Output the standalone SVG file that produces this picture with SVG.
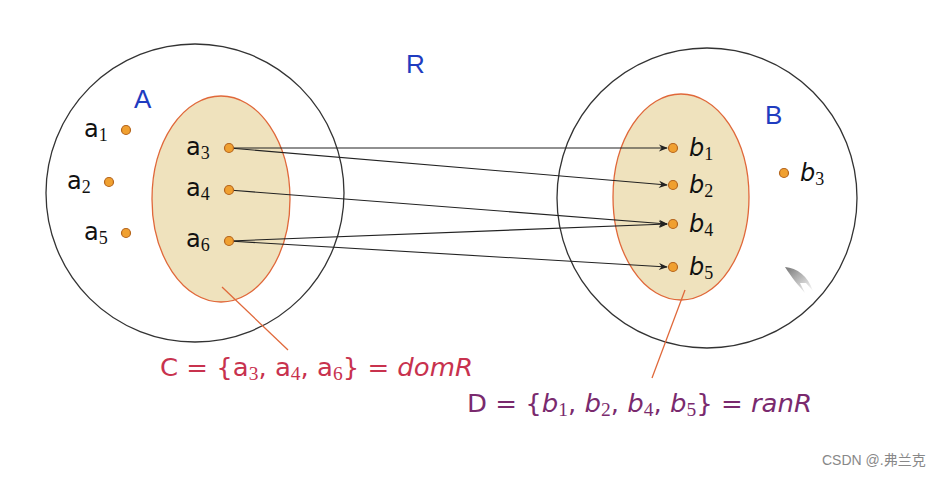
<svg xmlns="http://www.w3.org/2000/svg" width="951" height="477" viewBox="0 0 951 477">
<defs>
<marker id="arr" viewBox="0 0 10 10" refX="9" refY="5" markerWidth="10" markerHeight="9" orient="auto" markerUnits="userSpaceOnUse">
<path d="M0,1 L10,5 L0,9 L3,5 Z" fill="#222"/>
</marker>
<linearGradient id="cur" x1="0" y1="0" x2="1" y2="1">
<stop offset="0" stop-color="#555"/>
<stop offset="1" stop-color="#fff"/>
</linearGradient>
</defs>
<style>
.set{fill:none;stroke:#333;stroke-width:1.3}
.sub{fill:#efe2bd;stroke:#e0683a;stroke-width:1.3}
.dot{fill:#f0a030;stroke:#b5651d;stroke-width:1.2}
.lbl{font-family:"DejaVu Sans","Liberation Sans",sans-serif;font-size:24px;fill:#111}
.lbli{font-family:"DejaVu Sans","Liberation Sans",sans-serif;font-style:italic;font-size:24px;fill:#111}
.sb{font-family:"Liberation Serif",serif;font-size:18px;font-style:normal}
.setname{font-family:"Liberation Sans",sans-serif;font-size:26px;fill:#1f3cc0}
.edge{stroke:#222;stroke-width:1.1;fill:none;marker-end:url(#arr)}
.ptr{stroke:#e0683a;stroke-width:1.3;fill:none}
.f1{font-family:"DejaVu Sans","Liberation Sans",sans-serif;font-size:24px;fill:#c8324e}
.f2{font-family:"DejaVu Sans","Liberation Sans",sans-serif;font-size:24px;fill:#7a2a6e}
.wm{font-family:"Liberation Sans","Noto Sans CJK SC",sans-serif;font-size:14px;fill:#888}
</style>
<rect width="951" height="477" fill="#fff"/>
<g id="setA">
<circle class="set" cx="195" cy="193" r="149"/>
<text class="setname" x="134" y="108">A</text>
</g>
<g id="setB">
<circle class="set" cx="707" cy="198" r="150"/>
<text class="setname" x="765" y="124">B</text>
</g>
<g id="setC">
<ellipse class="sub" cx="221" cy="199" rx="69" ry="103"/>
</g>
<g id="setD">
<ellipse class="sub" cx="681" cy="197" rx="68" ry="103"/>
</g>
<text class="setname" x="406" y="73">R</text>
<g id="connectors">
<line class="edge" x1="229" y1="148" x2="667" y2="148"/>
<line class="edge" x1="229" y1="148" x2="667" y2="185"/>
<line class="edge" x1="229" y1="190" x2="667" y2="224"/>
<line class="edge" x1="229" y1="241" x2="667" y2="224"/>
<line class="edge" x1="229" y1="241" x2="667" y2="267"/>
<line class="ptr" x1="222" y1="287" x2="288" y2="350"/>
<line class="ptr" x1="685" y1="290" x2="652" y2="378"/>
</g>
<g id="a1"><circle class="dot" cx="126" cy="130" r="4.5"/><text class="lbl" x="84" y="137">a<tspan class="sb" dy="4">1</tspan></text></g>
<g id="a2"><circle class="dot" cx="109" cy="182" r="4.5"/><text class="lbl" x="67" y="189">a<tspan class="sb" dy="4">2</tspan></text></g>
<g id="a5"><circle class="dot" cx="126" cy="233" r="4.5"/><text class="lbl" x="84" y="240">a<tspan class="sb" dy="4">5</tspan></text></g>
<g id="a3"><circle class="dot" cx="229" cy="148" r="4.5"/><text class="lbl" x="186" y="155">a<tspan class="sb" dy="4">3</tspan></text></g>
<g id="a4"><circle class="dot" cx="229" cy="190" r="4.5"/><text class="lbl" x="186" y="196">a<tspan class="sb" dy="4">4</tspan></text></g>
<g id="a6"><circle class="dot" cx="229" cy="241" r="4.5"/><text class="lbl" x="186" y="247">a<tspan class="sb" dy="4">6</tspan></text></g>
<g id="b1"><circle class="dot" cx="673" cy="148" r="4.5"/><text class="lbli" x="689" y="156">b<tspan class="sb" dy="4">1</tspan></text></g>
<g id="b2"><circle class="dot" cx="673" cy="185" r="4.5"/><text class="lbli" x="689" y="193">b<tspan class="sb" dy="4">2</tspan></text></g>
<g id="b4"><circle class="dot" cx="673" cy="224" r="4.5"/><text class="lbli" x="689" y="232">b<tspan class="sb" dy="4">4</tspan></text></g>
<g id="b5"><circle class="dot" cx="673" cy="267" r="4.5"/><text class="lbli" x="689" y="275">b<tspan class="sb" dy="4">5</tspan></text></g>
<g id="b3"><circle class="dot" cx="784" cy="173" r="4.5"/><text class="lbli" x="800" y="181">b<tspan class="sb" dy="4">3</tspan></text></g>
<g id="labelC">
<text class="f1" x="160" y="376" textLength="313" lengthAdjust="spacingAndGlyphs">C = {a<tspan class="sb" dy="4">3</tspan><tspan dy="-4">, a</tspan><tspan class="sb" dy="4">4</tspan><tspan dy="-4">, a</tspan><tspan class="sb" dy="4">6</tspan><tspan dy="-4">} = <tspan font-style="italic">domR</tspan></tspan></text>
</g>
<g id="labelD">
<text class="f2" x="467" y="412" textLength="345" lengthAdjust="spacingAndGlyphs">D = {<tspan font-style="italic">b</tspan><tspan class="sb" dy="4">1</tspan><tspan dy="-4">, <tspan font-style="italic">b</tspan></tspan><tspan class="sb" dy="4">2</tspan><tspan dy="-4">, <tspan font-style="italic">b</tspan></tspan><tspan class="sb" dy="4">4</tspan><tspan dy="-4">, <tspan font-style="italic">b</tspan></tspan><tspan class="sb" dy="4">5</tspan><tspan dy="-4">} = <tspan font-style="italic">ranR</tspan></tspan></text>
</g>
<path d="M785,267 C797,268 808,276 813,291 L806,283 L800,283 L805,293 C798,285 792,278 785,267 Z" fill="url(#cur)" opacity="0.8"/>
<text class="wm" x="822" y="465">CSDN @.弗兰克</text>
</svg>
